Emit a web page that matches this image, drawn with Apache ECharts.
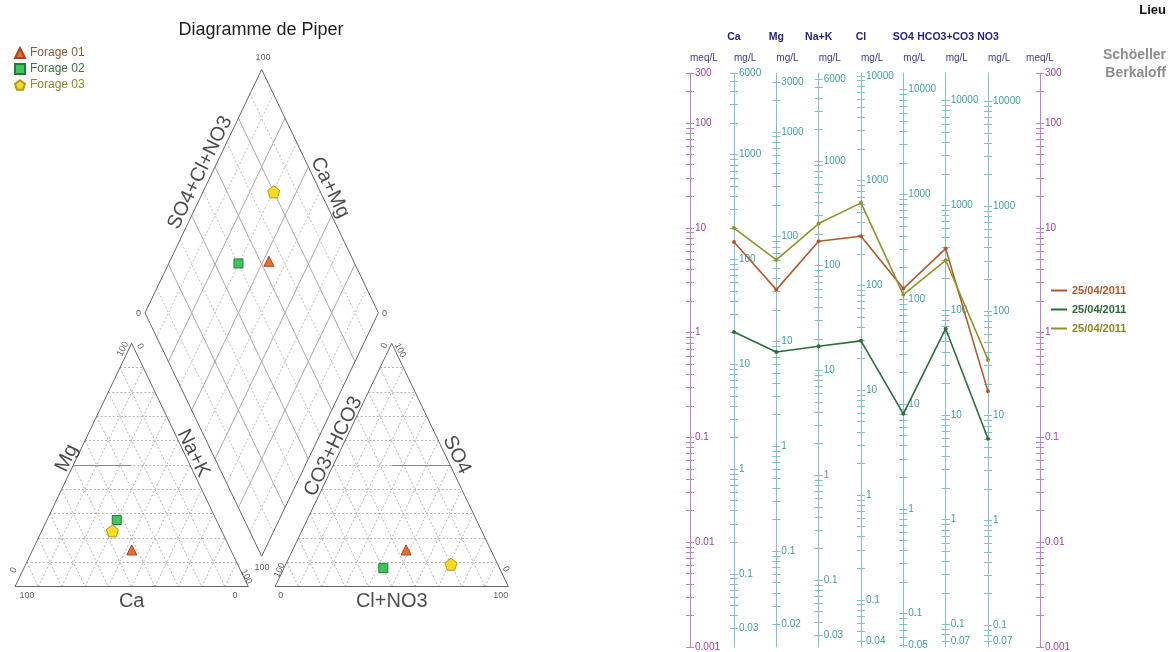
<!DOCTYPE html>
<html>
<head>
<meta charset="utf-8">
<script src="https://cdn.jsdelivr.net/npm/echarts@6.0.0/dist/echarts.min.js"></script>
<style>html,body{margin:0;padding:0;background:#fff;}#chart{width:1172px;height:652px;}</style>
</head>
<body>
<div id="chart"></div>
<script>
// ---------------- Piper data (% of meq) ----------------
const samples   = ['Forage 01', 'Forage 02', 'Forage 03'];
const pctCa     = [42.4, 42.7, 46.8];
const pctMg     = [15.1, 27.4, 22.9];
const pctNaK    = [42.5, 29.9, 30.3];
const pctHCO3   = [36.3, 49.8, 20.0];
const pctSO4    = [15.1, 7.6, 9.2];
const pctClNO3  = [48.6, 42.6, 70.8];

// ---------------- Schoeller-Berkaloff data (meq/L) ----------------
const ions      = ['Ca', 'Mg', 'Na+K', 'Cl', 'SO4', 'HCO3+CO3', 'NO3'];
const eqWeights = [20.04, 12.15, 22.99, 35.45, 48.03, 61.02, 62.0];
const lineNames = ['25/04/2011', '25/04/2011', '25/04/2011'];
const meq01     = [7.33, 2.57, 7.43, 8.3, 2.63, 6.33, 0.275];
const meq02     = [1.015, 0.654, 0.74, 0.834, 0.168, 1.09, 0.097];
const meq03     = [9.93, 4.94, 10.97, 17.3, 2.3, 4.9, 0.552];
const meqRange  = [0.001, 300];
const meqLabels = [0.001, 0.01, 0.1, 1, 10, 100, 300];
const mgLabels  = [
  [0.03, 0.1, 1, 10, 100, 1000, 6000],
  [0.02, 0.1, 1, 10, 100, 1000, 3000],
  [0.03, 0.1, 1, 10, 100, 1000, 6000],
  [0.04, 0.1, 1, 10, 100, 1000, 10000],
  [0.05, 0.1, 1, 10, 100, 1000, 10000],
  [0.07, 0.1, 1, 10, 100, 1000, 10000],
  [0.07, 0.1, 1, 10, 100, 1000, 10000]
];

// ---------------- styles / layout ----------------
const FF = "'Liberation Sans', Arial, sans-serif";
const H = Math.sqrt(3) / 2, GAP = 11.46, LIFT = 0.9;
const PX_X = 2.3333, PX_Y = 2.8106;
const XMAX = 200 + GAP;
const Bx = 100 + GAP / 2, By = GAP * H + LIFT;
const YMAX = By + 200 * H;

function cat(mg, nak) { return [nak + mg / 2, mg * H]; }
function an(so4, cl) { return [100 + GAP + cl + so4 / 2, so4 * H]; }
function dia(nak, sc) { return [Bx - 50 + 0.5 * (nak + sc), By + 100 * H + H * (sc - nak)]; }

const border = [], dotted = [], diaSolid = [], diaDotted = [], classLines = [];
const seg = (arr, p, q) => arr.push({ coords: [p, q] });
seg(border, cat(0, 0), cat(0, 100)); seg(border, cat(0, 100), cat(100, 0)); seg(border, cat(100, 0), cat(0, 0));
seg(border, an(0, 0), an(0, 100)); seg(border, an(0, 100), an(100, 0)); seg(border, an(100, 0), an(0, 0));
seg(border, dia(0, 0), dia(0, 100)); seg(border, dia(0, 100), dia(100, 100));
seg(border, dia(100, 100), dia(100, 0)); seg(border, dia(100, 0), dia(0, 0));
for (let p = 10; p < 100; p += 10) {
  seg(dotted, cat(p, 0), cat(p, 100 - p));
  seg(dotted, cat(0, p), cat(100 - p, p));
  seg(dotted, cat(100 - p, 0), cat(0, 100 - p));
  seg(dotted, an(p, 0), an(p, 100 - p));
  seg(dotted, an(0, p), an(100 - p, p));
  seg(dotted, an(100 - p, 0), an(0, 100 - p));
  const arr = (p % 20 === 0) ? diaSolid : diaDotted;
  seg(arr, dia(0, p), dia(100, p));
  seg(arr, dia(p, 0), dia(p, 100));
}
seg(classLines, cat(50, 0), cat(50, 25));
seg(classLines, an(50, 25), an(50, 50));

const pipLabels = [
  ['100', 5.1, -3.3, 0, 9], ['0', 94.3, -3.3, 0, 9], ['Ca', 50, -5.2, 0, 20],
  ['0', -0.6, 5.9, 64, 9], ['100', 46.2, 84.6, 64, 9], ['0', 53.6, 85.5, -64, 9], ['100', 99.2, 3.6, -64, 9],
  ['Mg', 22.2, 45.8, 64, 20], ['Na+K', 76.4, 47.5, -64, 20],
  ['0', 111.46 + 2.4, -3.3, 0, 9], ['100', 111.46 + 96.7, -3.3, 0, 9], ['Cl+NO3', 111.46 + 50, -5.2, 0, 20],
  ['100', 111.46 + 1.9, 5.9, 64, 9], ['0', 111.46 + 98.9, 6.2, -64, 9], ['0', 111.46 + 46.8, 85.8, 64, 9], ['100', 111.46 + 53.6, 84.1, -64, 9],
  ['CO3+HCO3', 111.46 + 25.0, 49.9, 64, 20], ['SO4', 111.46 + 77.9, 46.9, -64, 20],
  ['100', 106.3, 188.3, 0, 9], ['0', 52.9, 97.2, 0, 9], ['0', 158.4, 97.2, 0, 9], ['100', 105.9, 7.0, 0, 9],
  ['SO4+Cl+NO3', 79.3, 147.3, 64, 20], ['Ca+Mg', 135, 142, -64, 20]
];

const pipSymbols = ['triangle', 'rect', 'path://M0,-1 L0.951,-0.309 L0.588,0.809 L-0.588,0.809 L-0.951,-0.309 Z'];
const pipFill = ['#ea6f2b', '#3cc65b', '#f6db22'];
const pipBorder = ['#a8431b', '#1f7d36', '#b39b12'];
const pipSize = [10, 9, 12];
const pipText = ['#8b5a3c', '#3d7048', '#8a8a2a'];

const lineColors = ['#b4582c', '#2b6e3b', '#8e9524'];
const lineText = ['#b5582a', '#2a6a35', '#8a8a1a'];

// ---------------- Schoeller axes ----------------
const SCH_LEFT = 734, SCH_RIGHT = 988;
const STEP = (SCH_RIGHT - SCH_LEFT) / (ions.length - 1);
const TEAL = '#7fc3c5', TEAL_T = '#3f9ea2', PURP = '#c77dcc', PURP_T = '#9b3fa0';

function logTicks(lo, hi) {
  const out = [];
  for (let d = Math.floor(Math.log10(lo)) - 1; d <= Math.ceil(Math.log10(hi)); d++) {
    for (let k = 1; k < 10; k++) {
      const v = k * Math.pow(10, d);
      if (v >= lo * 0.99999 && v <= hi * 1.00001) out.push(Math.log10(v));
    }
  }
  return out;
}
const fmtLog = v => String(+Math.pow(10, v).toPrecision(3));

function vAxis(o) {
  return {
    type: 'value', gridIndex: 1, position: o.pos, offset: o.offset,
    min: Math.log10(o.lo), max: Math.log10(o.hi),
    splitLine: { show: false },
    axisLine: { show: o.line, lineStyle: { color: o.color, width: 1 } },
    axisTick: { show: true, inside: o.tickInside, length: 4, customValues: logTicks(o.lo, o.hi), lineStyle: { color: o.color, width: 1 } },
    axisLabel: { show: !!o.labels, inside: o.labelInside, margin: 5, customValues: o.labels ? o.labels.map(Math.log10) : undefined,
                 formatter: fmtLog, color: o.textColor, fontSize: 10, fontFamily: FF },
    name: o.name || '', nameLocation: 'end', nameGap: 10,
    nameTextStyle: { color: '#3b3b95', fontSize: 10, fontFamily: FF, align: o.nameAlign || 'left' },
    silent: true
  };
}

const yAxes = [
  { type: 'value', gridIndex: 0, min: 0, max: YMAX, show: false },
  { type: 'log', gridIndex: 1, min: meqRange[0], max: meqRange[1], logBase: 10, show: false }
];
yAxes.push(vAxis({ pos: 'left', offset: 44, lo: meqRange[0], hi: meqRange[1], line: true, color: PURP, tickInside: true,
  labels: meqLabels, labelInside: true, textColor: PURP_T, name: 'meq/L', nameAlign: 'left' }));
yAxes.push(vAxis({ pos: 'left', offset: 44, lo: meqRange[0], hi: meqRange[1], line: false, color: PURP, tickInside: false }));
yAxes.push(vAxis({ pos: 'right', offset: 52, lo: meqRange[0], hi: meqRange[1], line: true, color: PURP, tickInside: false,
  labels: meqLabels, labelInside: false, textColor: PURP_T, name: 'meq/L', nameAlign: 'center' }));
yAxes.push(vAxis({ pos: 'right', offset: 52, lo: meqRange[0], hi: meqRange[1], line: false, color: PURP, tickInside: true }));
ions.forEach((ion, i) => {
  const lo = meqRange[0] * eqWeights[i], hi = meqRange[1] * eqWeights[i];
  yAxes.push(vAxis({ pos: 'left', offset: -i * STEP, lo, hi, line: true, color: TEAL, tickInside: true,
    labels: mgLabels[i], labelInside: true, textColor: TEAL_T, name: 'mg/L', nameAlign: 'left' }));
  yAxes.push(vAxis({ pos: 'left', offset: -i * STEP, lo, hi, line: false, color: TEAL, tickInside: false }));
});

// ---------------- series ----------------
const series = [];
series.push({ type: 'lines', coordinateSystem: 'cartesian2d', xAxisIndex: 0, yAxisIndex: 0, silent: true, z: 2,
  data: dotted, lineStyle: { color: '#b5b5b5', width: 1, type: [2, 2], opacity: 1 } });
series.push({ type: 'lines', coordinateSystem: 'cartesian2d', xAxisIndex: 0, yAxisIndex: 0, silent: true, z: 2,
  data: diaDotted, lineStyle: { color: '#bdbdbd', width: 1, type: [2, 2], opacity: 1 } });
series.push({ type: 'lines', coordinateSystem: 'cartesian2d', xAxisIndex: 0, yAxisIndex: 0, silent: true, z: 2,
  data: diaSolid, lineStyle: { color: '#a9a9a9', width: 1, type: 'solid', opacity: 1 } });
series.push({ type: 'lines', coordinateSystem: 'cartesian2d', xAxisIndex: 0, yAxisIndex: 0, silent: true, z: 3,
  data: classLines, lineStyle: { color: '#8a8a8a', width: 1, type: 'solid', opacity: 1 } });
series.push({ type: 'lines', coordinateSystem: 'cartesian2d', xAxisIndex: 0, yAxisIndex: 0, silent: true, z: 3,
  data: border, lineStyle: { color: '#666666', width: 1, type: 'solid', opacity: 1 } });

samples.forEach((s, i) => {
  series.push({
    type: 'scatter', name: s, xAxisIndex: 0, yAxisIndex: 0, z: 5,
    symbol: pipSymbols[i], symbolSize: pipSize[i],
    itemStyle: { color: pipFill[i], borderColor: pipBorder[i], borderWidth: 1, opacity: 1 },
    data: [cat(pctMg[i], pctNaK[i]), an(pctSO4[i], pctClNO3[i]), dia(pctNaK[i], pctSO4[i] + pctClNO3[i])]
  });
});

series.push({
  type: 'scatter', xAxisIndex: 0, yAxisIndex: 0, symbolSize: 1, silent: true, clip: false, z: 6,
  itemStyle: { color: 'rgba(0,0,0,0)' },
  data: pipLabels.map(([t, x, y, r, s]) => ({
    value: [x, y],
    label: { show: true, position: 'inside', formatter: t, rotate: r, fontSize: s, fontFamily: FF,
             color: s > 12 ? '#1e1e1e' : '#333333' }
  }))
});

const meqSeries = [meq01, meq02, meq03];
const lineSeriesNames = lineNames.map((n, i) => n + ' #' + (i + 1));
meqSeries.forEach((d, i) => {
  series.push({
    type: 'line', name: lineSeriesNames[i], xAxisIndex: 1, yAxisIndex: 1, data: d, z: 5,
    symbol: 'circle', symbolSize: 4, showSymbol: true,
    lineStyle: { color: lineColors[i], width: 1.6 },
    itemStyle: { color: lineColors[i] }
  });
});

const option = {
  animation: false,
  backgroundColor: '#ffffff',
  textStyle: { fontFamily: FF },
  grid: [
    { left: 15, bottom: 65.3, width: XMAX * PX_X, height: YMAX * PX_Y, containLabel: false, outerBoundsMode: 'none' },
    { left: SCH_LEFT, right: 1172 - SCH_RIGHT, top: 73, bottom: 5, containLabel: false, outerBoundsMode: 'none' }
  ],
  xAxis: [
    { type: 'value', gridIndex: 0, min: 0, max: XMAX, show: false },
    { type: 'category', gridIndex: 1, data: ions, boundaryGap: false, position: 'top',
      axisLine: { show: false }, axisTick: { show: false }, splitLine: { show: false },
      axisLabel: { interval: 0, margin: 30, color: '#23238a', fontWeight: 'bold', fontSize: 10.5, fontFamily: FF } }
  ],
  yAxis: yAxes,
  legend: [
    { data: samples.map((s, i) => ({ name: s, textStyle: { color: pipText[i] } })),
      orient: 'vertical', left: 9, top: 42, itemWidth: 10, itemHeight: 10, itemGap: 4,
      textStyle: { fontSize: 12, fontFamily: FF }, selectedMode: false },
    { data: lineSeriesNames.map((s, i) => ({ name: s, icon: 'rect', textStyle: { color: lineText[i] } })),
      orient: 'vertical', left: 1046, top: 280, itemWidth: 16, itemHeight: 2, itemGap: 8,
      formatter: n => n.split(' #')[0],
      textStyle: { fontSize: 11, fontWeight: 'bold', fontFamily: FF }, selectedMode: false }
  ],
  graphic: [
    { type: 'text', x: 261, y: 30, silent: true,
      style: { text: 'Diagramme de Piper', fill: '#1e1e1e', font: '18px ' + FF, textAlign: 'center', textVerticalAlign: 'middle' } },
    { type: 'text', x: 1166, y: 10, silent: true,
      style: { text: 'Lieu', fill: '#111', font: 'bold 13px ' + FF, textAlign: 'right', textVerticalAlign: 'middle' } },
    { type: 'text', x: 1166, y: 55, silent: true,
      style: { text: 'Schöeller', fill: '#8c8c8c', font: 'bold 14px ' + FF, textAlign: 'right', textVerticalAlign: 'middle' } },
    { type: 'text', x: 1166, y: 73, silent: true,
      style: { text: 'Berkaloff', fill: '#8c8c8c', font: 'bold 14px ' + FF, textAlign: 'right', textVerticalAlign: 'middle' } }
  ],
  series: series
};

const chart = echarts.init(document.getElementById('chart'), null, { renderer: 'canvas' });
chart.setOption(option);
</script>
</body>
</html>
